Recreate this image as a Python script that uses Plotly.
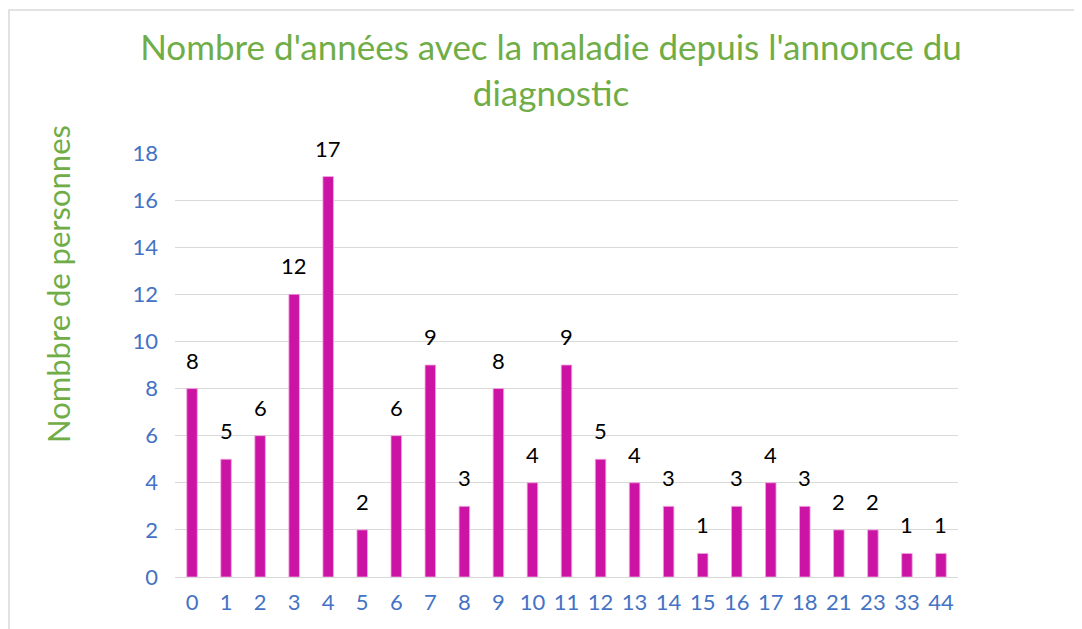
import plotly.graph_objects as go

categories = ["0", "1", "2", "3", "4", "5", "6", "7", "8", "9", "10", "11",
              "12", "13", "14", "15", "16", "17", "18", "21", "23", "33", "44"]
values = [8, 5, 6, 12, 17, 2, 6, 9, 3, 8, 4, 9, 5, 4, 3, 1, 3, 4, 3, 2, 2, 1, 1]
y_ticks = [0, 2, 4, 6, 8, 10, 12, 14, 16, 18]

title_text = "Nombre d'années avec la maladie depuis l'annonce du<br>diagnostic"
y_title = "Nombbre de personnes"

FONT = "Lato"
GREEN = "#70AD47"
BLUE = "#4472C4"
BAR = "#CC14A4"

fig = go.Figure()
fig.add_trace(go.Bar(
    x=categories, y=values,
    marker=dict(color=BAR, line=dict(color="#F2A8E0", width=0.8)),
    width=0.31,
    hoverinfo="x+y",
))

# page body has an 8px margin; the div is offset by it
OFF = 8
W, H = 1082 - OFF, 629 - OFF
L, T = 175 - OFF, 153 - OFF
pw, ph = 783, 424
R, B = W - L - pw, H - T - ph

annotations = []
for i, v in enumerate(values):
    annotations.append(dict(
        x=i, y=v, xref="x", yref="y", text=str(v), showarrow=False,
        yanchor="bottom", yshift=13,
        font=dict(family=FONT, size=22, color="#000000"),
    ))
annotations.append(dict(
    text=y_title, xref="paper", yref="paper",
    x=(58 - 175) / pw, y=(577 - 284) / ph,
    xanchor="center", yanchor="middle", textangle=-90, showarrow=False,
    font=dict(family=FONT, size=31, color=GREEN),
))

fig.update_layout(
    width=W, height=H,
    margin=dict(l=L, r=R, t=T, b=B, autoexpand=False),
    plot_bgcolor="white", paper_bgcolor="white",
    showlegend=False,
    title=dict(
        text=title_text, x=(551 - OFF) / W, xanchor="center", xref="container",
        y=1 - 52 / H, yanchor="top", yref="container",
        font=dict(family=FONT, size=35, color=GREEN),
    ),
    xaxis=dict(
        type="category", showgrid=False, zeroline=False, showline=False,
        tickvals=categories, ticktext=categories,
        ticks="", tickfont=dict(family=FONT, size=22, color=BLUE),
        ticklabelstandoff=10,
    ),
    yaxis=dict(
        range=[0, 18], tickvals=y_ticks, showgrid=True, gridcolor="#D9D9D9",
        gridwidth=1, zeroline=True, zerolinecolor="#D9D9D9", zerolinewidth=1,
        showline=False, ticks="",
        tickfont=dict(family=FONT, size=22, color=BLUE),
        ticklabelstandoff=16,
    ),
    annotations=annotations,
    shapes=[dict(
        type="rect", xref="paper", yref="paper",
        x0=(9 - 175) / pw, x1=(1082 + 20 - 175) / pw,
        y0=-(52 + 20) / ph, y1=(577 - 10) / ph,
        line=dict(color="#D9D9D9", width=1.5), fillcolor="rgba(0,0,0,0)",
        layer="below",
    )],
)

fig.write_html("out.html")
